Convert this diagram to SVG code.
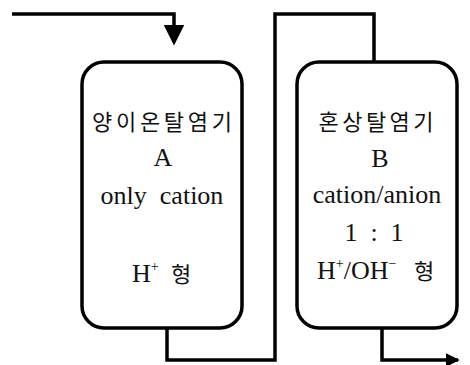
<svg xmlns="http://www.w3.org/2000/svg" width="470" height="365" viewBox="0 0 470 365">
<defs>
<marker id="arr" markerWidth="6" markerHeight="6" refX="5" refY="3" orient="auto" markerUnits="strokeWidth">
<path d="M0,0 L6,3 L0,6 Z" fill="#000"/>
</marker>
<marker id="arrS" markerWidth="4" markerHeight="4" refX="3.5" refY="2" orient="auto" markerUnits="strokeWidth">
<path d="M0,0 L4,2 L0,4 Z" fill="#000"/>
</marker>
<style>
.box{fill:#fff;stroke:#000;stroke-width:3.5}
.ln{fill:none;stroke:#000;stroke-width:3.5;stroke-linejoin:miter}
.t{font-family:"Liberation Serif","Noto Sans CJK KR",serif;font-size:26px;fill:#111}
.k{font-family:"Noto Sans CJK KR","Liberation Serif",sans-serif;font-size:22px;fill:#111}
.m{text-anchor:middle}
.s{text-anchor:start}
.sup{font-size:14px}
</style>
</defs>
<rect width="470" height="365" fill="#fff"/>
<g id="connectors">
<path class="ln" d="M12,14 H174 V42" marker-end="url(#arr)"/>
<path class="ln" d="M167,328 V360 H275 V14 H374 V62"/>
<path class="ln" d="M382,328 V360 H458" marker-end="url(#arrS)"/>
</g>
<g id="nodeA">
<rect class="box" x="82" y="62" width="160" height="266" rx="22"/>
<text class="k m" x="162" y="130" textLength="140" lengthAdjust="spacing">양이온탈염기</text>
<text class="t m" x="163" y="166">A</text>
<text class="t m" x="162" y="204" xml:space="preserve">only  cation</text>
<text class="t s" x="132" y="282">H<tspan class="sup" dy="-11">+</tspan></text>
<text class="k m" x="181" y="282">형</text>
</g>
<g id="nodeB">
<rect class="box" x="297" y="62" width="160" height="266" rx="22"/>
<text class="k m" x="376" y="130" textLength="115" lengthAdjust="spacing">혼상탈염기</text>
<text class="t m" x="380" y="167">B</text>
<text class="t m" x="377" y="203">cation/anion</text>
<text class="t m" x="374" y="241" xml:space="preserve">1  :  1</text>
<text class="t s" x="317" y="279">H<tspan class="sup" dy="-11">+</tspan><tspan dy="11">/OH</tspan><tspan class="sup" dy="-11">−</tspan></text>
<text class="k m" x="424" y="279">형</text>
</g>
</svg>
